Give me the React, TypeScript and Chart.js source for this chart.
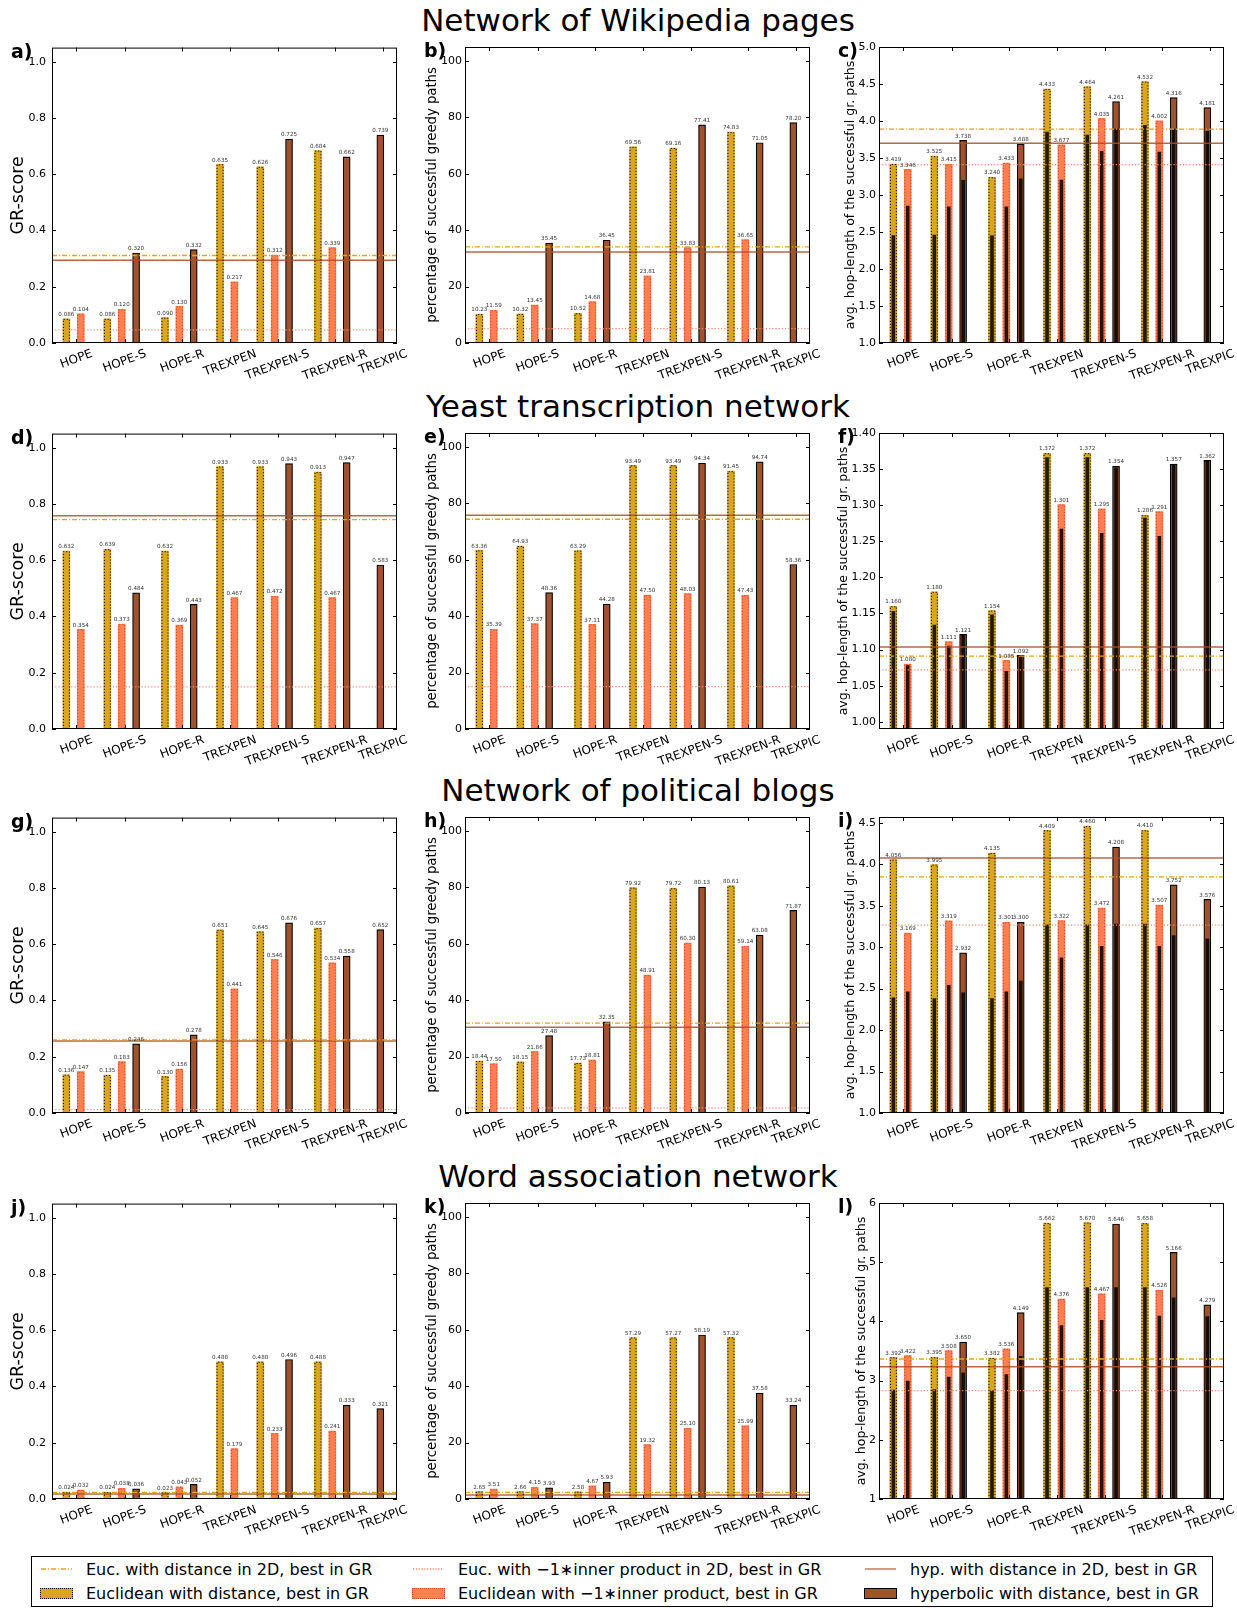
import React, { useEffect, useRef } from "react";
import { Chart, registerables } from "chart.js";
Chart.register(...registerables);

const FONT = "'DejaVu Sans', 'Liberation Sans', sans-serif";

// ---------- categories & layout of the x axis (slot units) ----------
const methods = ["HOPE", "HOPE-S", "HOPE-R", "TREXPEN", "TREXPEN-S", "TREXPEN-R", "TREXPIC"];
const groupStart = [1.0, 3.85, 7.86, 11.69, 14.49, 18.5, 20.84];
const X_MAX = 24;

const rowTitles = [
  "Network of Wikipedia pages",
  "Yeast transcription network",
  "Network of political blogs",
  "Word association network",
];

// ---------- y tick labels ----------
const grTicks = [0, 0.2, 0.4, 0.6, 0.8, 1.0];
const pctTicks = [0, 20, 40, 60, 80, 100];
const hopTicksC = [1.0, 1.5, 2.0, 2.5, 3.0, 3.5, 4.0, 4.5, 5.0];
const hopTicksF = [1.0, 1.05, 1.1, 1.15, 1.2, 1.25, 1.3, 1.35, 1.4];
const hopTicksI = [1.0, 1.5, 2.0, 2.5, 3.0, 3.5, 4.0, 4.5];
const hopTicksL = [1, 2, 3, 4, 5, 6];

// ---------- data: [Euclidean distance, Euclidean -1*inner, hyperbolic] ----------
// 2D reference lines: [Euc. dist 2D, Euc. inner 2D, hyp. 2D]
// a) Wikipedia GR-score
const wikiGR_eucDist = [0.086, 0.086, 0.090, 0.635, 0.626, 0.684, null];
const wikiGR_eucInner = [0.104, 0.120, 0.130, 0.217, 0.312, 0.339, null];
const wikiGR_hyp = [null, 0.320, 0.332, null, 0.725, 0.662, 0.739];
const wikiGR_2D = [0.311, 0.047, 0.294];
// b) Wikipedia percentage
const wikiPct_eucDist = [10.23, 10.32, 10.52, 69.56, 69.16, 74.83, null];
const wikiPct_eucInner = [11.59, 13.45, 14.68, 23.81, 33.83, 36.65, null];
const wikiPct_hyp = [null, 35.45, 36.45, null, 77.41, 71.05, 78.20];
const wikiPct_2D = [34.1, 5.1, 32.3];
// c) Wikipedia hop-length (bar) and inner (dark) values
const wikiHop_eucDist = [3.419, 3.525, 3.240, 4.433, 4.464, 4.532, null];
const wikiHop_eucInner = [3.346, 3.415, 3.433, 3.677, 4.035, 4.002, null];
const wikiHop_hyp = [null, 3.738, 3.688, null, 4.261, 4.316, 4.181];
const wikiHopIn_eucDist = [2.45, 2.46, 2.45, 3.85, 3.81, 3.94, null];
const wikiHopIn_eucInner = [2.85, 2.84, 2.84, 3.20, 3.59, 3.58, null];
const wikiHopIn_hyp = [null, 3.20, 3.22, null, 3.89, 3.89, 3.86];
const wikiHop_2D = [3.89, 3.41, 3.70];
// d) Yeast GR-score
const yeastGR_eucDist = [0.632, 0.639, 0.632, 0.933, 0.933, 0.913, null];
const yeastGR_eucInner = [0.354, 0.373, 0.369, 0.467, 0.472, 0.467, null];
const yeastGR_hyp = [null, 0.484, 0.443, null, 0.943, 0.947, 0.583];
const yeastGR_2D = [0.744, 0.150, 0.758];
// e) Yeast percentage
const yeastPct_eucDist = [63.36, 64.93, 63.29, 93.49, 93.49, 91.45, null];
const yeastPct_eucInner = [35.39, 37.37, 37.11, 47.50, 48.03, 47.43, null];
const yeastPct_hyp = [null, 48.36, 44.28, null, 94.34, 94.74, 58.36];
const yeastPct_2D = [74.4, 15.0, 75.8];
// f) Yeast hop-length
const yeastHop_eucDist = [1.160, 1.180, 1.154, 1.372, 1.372, 1.286, null];
const yeastHop_eucInner = [1.080, 1.111, 1.085, 1.301, 1.295, 1.291, null];
const yeastHop_hyp = [null, 1.121, 1.092, null, 1.354, 1.357, 1.362];
const yeastHopIn_eucDist = [1.153, 1.134, 1.148, 1.366, 1.366, 1.282, null];
const yeastHopIn_eucInner = [1.078, 1.105, 1.070, 1.267, 1.261, 1.257, null];
const yeastHopIn_hyp = [null, 1.121, 1.092, null, 1.352, 1.356, 1.361];
const yeastHop_2D = [1.091, 1.072, 1.1035];
// g) Blogs GR-score
const blogsGR_eucDist = [0.136, 0.135, 0.130, 0.651, 0.645, 0.657, null];
const blogsGR_eucInner = [0.147, 0.183, 0.156, 0.441, 0.546, 0.534, null];
const blogsGR_hyp = [null, 0.246, 0.278, null, 0.676, 0.558, 0.652];
const blogsGR_2D = [0.260, 0.012, 0.256];
// h) Blogs percentage
const blogsPct_eucDist = [18.44, 18.15, 17.73, 79.92, 79.72, 80.61, null];
const blogsPct_eucInner = [17.50, 21.86, 18.81, 48.91, 60.30, 59.14, null];
const blogsPct_hyp = [null, 27.48, 32.35, null, 80.13, 63.08, 71.87];
const blogsPct_2D = [31.9, 1.8, 30.4];
// i) Blogs hop-length
const blogsHop_eucDist = [4.056, 3.995, 4.135, 4.409, 4.460, 4.410, null];
const blogsHop_eucInner = [3.169, 3.319, 3.301, 3.322, 3.472, 3.507, null];
const blogsHop_hyp = [null, 2.932, 3.300, null, 4.208, 3.752, 3.576];
const blogsHopIn_eucDist = [2.39, 2.38, 2.38, 3.27, 3.27, 3.28, null];
const blogsHopIn_eucInner = [2.46, 2.54, 2.46, 2.87, 3.01, 3.01, null];
const blogsHopIn_hyp = [null, 2.45, 2.59, null, 3.28, 3.14, 3.10];
const blogsHop_2D = [3.848, 3.265, 4.077];
// j) Word association GR-score
const wordGR_eucDist = [0.024, 0.024, 0.023, 0.488, 0.488, 0.488, null];
const wordGR_eucInner = [0.032, 0.038, 0.043, 0.179, 0.233, 0.241, null];
const wordGR_hyp = [null, 0.036, 0.052, null, 0.496, 0.333, 0.321];
const wordGR_2D = [0.0236, 0.0035, 0.0177];
// k) Word association percentage
const wordPct_eucDist = [2.65, 2.66, 2.58, 57.29, 57.27, 57.32, null];
const wordPct_eucInner = [3.51, 4.15, 4.67, 19.32, 25.10, 25.99, null];
const wordPct_hyp = [null, 3.93, 5.93, null, 58.19, 37.58, 33.24];
const wordPct_2D = [2.36, 0.35, 1.42];
// l) Word association hop-length
const wordHop_eucDist = [3.392, 3.395, 3.382, 5.662, 5.670, 5.658, null];
const wordHop_eucInner = [3.422, 3.508, 3.536, 4.376, 4.467, 4.526, null];
const wordHop_hyp = [null, 3.650, 4.149, null, 5.646, 5.166, 4.279];
const wordHopIn_eucDist = [2.84, 2.85, 2.83, 4.57, 4.57, 4.57, null];
const wordHopIn_eucInner = [2.99, 3.06, 3.10, 3.93, 4.02, 4.09, null];
const wordHopIn_hyp = [null, 3.13, 3.41, null, 4.57, 4.40, 4.08];
const wordHop_2D = [3.365, 2.83, 3.236];

// ---------- legend ----------
const legendLines = [
  "Euc. with distance in 2D, best in GR",
  "Euc. with \u22121\u2217inner product in 2D, best in GR",
  "hyp. with distance in 2D, best in GR",
];
const legendBars = [
  "Euclidean with distance, best in GR",
  "Euclidean with \u22121\u2217inner product, best in GR",
  "hyperbolic with distance, best in GR",
];

// ---------- styles ----------
const GOLD = "#DAA520";
const CORAL = "#FF7F50";
const SIENNA = "#A0522D";
const LINE_GOLD = "#E8A317";
const LINE_CORAL = "#FA8A6A";
const LINE_BROWN = "rgba(172,78,36,0.85)";
const BAR_W = 7;

type Vals = (number | null)[];
type AxisCfg = {
  min: number; max: number; ticks: number[]; tickDigits: number;
  title: string; titleSize: number; valDigits: number;
};
type Panel = {
  letter: string; row: number; col: number; axis: AxisCfg;
  eucDist: Vals; eucInner: Vals; hyp: Vals; lines2D: number[];
  inner?: Vals[];
};

const hopTitle = "avg. hop-length of the successful gr. paths";
const grAxis: AxisCfg = { min: 0, max: 1.05, ticks: grTicks, tickDigits: 1, title: "GR-score", titleSize: 17.5, valDigits: 3 };
const pctAxis: AxisCfg = { min: 0, max: 105, ticks: pctTicks, tickDigits: 0, title: "percentage of successful greedy paths", titleSize: 13.2, valDigits: 2 };
const hopAxisC: AxisCfg = { min: 1, max: 5, ticks: hopTicksC, tickDigits: 1, title: hopTitle, titleSize: 12.6, valDigits: 3 };
const hopAxisF: AxisCfg = { min: 0.99, max: 1.4, ticks: hopTicksF, tickDigits: 2, title: hopTitle, titleSize: 12.6, valDigits: 3 };
const hopAxisI: AxisCfg = { min: 1, max: 4.57, ticks: hopTicksI, tickDigits: 1, title: hopTitle, titleSize: 12.6, valDigits: 3 };
const hopAxisL: AxisCfg = { min: 1, max: 6, ticks: hopTicksL, tickDigits: 0, title: hopTitle, titleSize: 12.6, valDigits: 3 };

const panels: Panel[] = [
  { letter: "a)", row: 0, col: 0, axis: grAxis, eucDist: wikiGR_eucDist, eucInner: wikiGR_eucInner, hyp: wikiGR_hyp, lines2D: wikiGR_2D },
  { letter: "b)", row: 0, col: 1, axis: pctAxis, eucDist: wikiPct_eucDist, eucInner: wikiPct_eucInner, hyp: wikiPct_hyp, lines2D: wikiPct_2D },
  { letter: "c)", row: 0, col: 2, axis: hopAxisC, eucDist: wikiHop_eucDist, eucInner: wikiHop_eucInner, hyp: wikiHop_hyp, lines2D: wikiHop_2D, inner: [wikiHopIn_eucDist, wikiHopIn_eucInner, wikiHopIn_hyp] },
  { letter: "d)", row: 1, col: 0, axis: grAxis, eucDist: yeastGR_eucDist, eucInner: yeastGR_eucInner, hyp: yeastGR_hyp, lines2D: yeastGR_2D },
  { letter: "e)", row: 1, col: 1, axis: pctAxis, eucDist: yeastPct_eucDist, eucInner: yeastPct_eucInner, hyp: yeastPct_hyp, lines2D: yeastPct_2D },
  { letter: "f)", row: 1, col: 2, axis: hopAxisF, eucDist: yeastHop_eucDist, eucInner: yeastHop_eucInner, hyp: yeastHop_hyp, lines2D: yeastHop_2D, inner: [yeastHopIn_eucDist, yeastHopIn_eucInner, yeastHopIn_hyp] },
  { letter: "g)", row: 2, col: 0, axis: grAxis, eucDist: blogsGR_eucDist, eucInner: blogsGR_eucInner, hyp: blogsGR_hyp, lines2D: blogsGR_2D },
  { letter: "h)", row: 2, col: 1, axis: pctAxis, eucDist: blogsPct_eucDist, eucInner: blogsPct_eucInner, hyp: blogsPct_hyp, lines2D: blogsPct_2D },
  { letter: "i)", row: 2, col: 2, axis: hopAxisI, eucDist: blogsHop_eucDist, eucInner: blogsHop_eucInner, hyp: blogsHop_hyp, lines2D: blogsHop_2D, inner: [blogsHopIn_eucDist, blogsHopIn_eucInner, blogsHopIn_hyp] },
  { letter: "j)", row: 3, col: 0, axis: grAxis, eucDist: wordGR_eucDist, eucInner: wordGR_eucInner, hyp: wordGR_hyp, lines2D: wordGR_2D },
  { letter: "k)", row: 3, col: 1, axis: pctAxis, eucDist: wordPct_eucDist, eucInner: wordPct_eucInner, hyp: wordPct_hyp, lines2D: wordPct_2D },
  { letter: "l)", row: 3, col: 2, axis: hopAxisL, eucDist: wordHop_eucDist, eucInner: wordHop_eucInner, hyp: wordHop_hyp, lines2D: wordHop_2D, inner: [wordHopIn_eucDist, wordHopIn_eucInner, wordHopIn_hyp] },
];

// ---------- page layout ----------
const ROW_TOP = [47, 433, 817, 1203];
const PLOT_H = 296;
const TOP_PAD = 12;
const BOTTOM_SPACE = 40;
const COLS = [
  { canvasLeft: 0, width: 410, plotLeft: 52, plotRight: 397, tickPad: 6 },
  { canvasLeft: 410, width: 415, plotLeft: 465, plotRight: 810, tickPad: 3 },
  { canvasLeft: 825, width: 412, plotLeft: 879, plotRight: 1224, tickPad: 3 },
];

function barData(vals: Vals, offset: number) {
  const out: { x: number; y: number }[] = [];
  vals.forEach((v, i) => {
    if (v !== null && v !== undefined) out.push({ x: groupStart[i] + offset, y: v });
  });
  return out;
}

function tickPositions(p: Panel) {
  return methods.map((_, i) => {
    const offs: number[] = [];
    if (p.eucDist[i] != null) offs.push(0);
    if (p.eucInner[i] != null) offs.push(1);
    if (p.hyp[i] != null) offs.push(2);
    const m = offs.reduce((a, b) => a + b, 0) / offs.length;
    return groupStart[i] + m + 0.2;
  });
}

function makeDecor(p: Panel, tickPos: number[]) {
  const col = COLS[p.col];
  return {
    id: "decor" + p.row + p.col,
    afterDatasetsDraw(chart: any) {
      const ctx = chart.ctx as CanvasRenderingContext2D;
      const { left, right, top, bottom } = chart.chartArea;
      const xs = chart.scales.x;
      const ys = chart.scales.y;
      ctx.save();

      // dotted edges on Euclidean bars
      const edge = ["#111111", "#c94a2c"];
      [0, 1].forEach((di) => {
        const meta = chart.getDatasetMeta(di);
        ctx.strokeStyle = edge[di];
        ctx.lineWidth = 1;
        ctx.setLineDash([1.2, 1.8]);
        meta.data.forEach((el: any) => {
          const x0 = el.x - el.width / 2 + 0.5;
          const x1 = el.x + el.width / 2 - 0.5;
          const b = Math.min(el.base, bottom);
          ctx.beginPath();
          ctx.moveTo(x0, b);
          ctx.lineTo(x0, el.y + 0.5);
          ctx.lineTo(x1, el.y + 0.5);
          ctx.lineTo(x1, b);
          ctx.stroke();
        });
      });
      ctx.setLineDash([]);

      // value labels above bars
      ctx.font = `5.6px ${FONT}`;
      ctx.fillStyle = "#333";
      ctx.textAlign = "center";
      ctx.textBaseline = "bottom";
      [0, 1, 2].forEach((di) => {
        const meta = chart.getDatasetMeta(di);
        const ds = chart.data.datasets[di];
        meta.data.forEach((el: any, j: number) => {
          ctx.fillText(ds.data[j].y.toFixed(p.axis.valDigits), el.x, el.y - 1.5);
        });
      });

      // frame and inward ticks
      ctx.strokeStyle = "#000";
      ctx.lineWidth = 1;
      ctx.strokeRect(left + 0.5, top + 0.5, right - left - 1, bottom - top - 1);
      ctx.beginPath();
      p.axis.ticks.forEach((v) => {
        const y = Math.round(ys.getPixelForValue(v)) + 0.5;
        ctx.moveTo(left, y); ctx.lineTo(left + 4, y);
        ctx.moveTo(right, y); ctx.lineTo(right - 4, y);
      });
      tickPos.forEach((v) => {
        const x = Math.round(xs.getPixelForValue(v)) + 0.5;
        ctx.moveTo(x, top); ctx.lineTo(x, top + 4);
        ctx.moveTo(x, bottom); ctx.lineTo(x, bottom - 4);
      });
      ctx.stroke();

      // rotated x labels, centred on ticks
      const ang = (20 * Math.PI) / 180;
      ctx.font = `12px ${FONT}`;
      ctx.fillStyle = "#000";
      ctx.textAlign = "center";
      ctx.textBaseline = "middle";
      methods.forEach((m, i) => {
        const x = xs.getPixelForValue(tickPos[i]);
        const w = ctx.measureText(m).width;
        const h = 12 * 1.164;
        const bh = w * Math.sin(ang) + h * Math.cos(ang);
        ctx.save();
        ctx.translate(x, bottom + 4 + bh / 2);
        ctx.rotate(-ang);
        ctx.fillText(m, 0, 0);
        ctx.restore();
      });

      // y axis title
      ctx.font = `11px ${FONT}`;
      let maxW = 0;
      p.axis.ticks.forEach((v) => {
        maxW = Math.max(maxW, ctx.measureText(v.toFixed(p.axis.tickDigits)).width);
      });
      const bx = left - col.tickPad - maxW - 1.5 - 0.236 * p.axis.titleSize;
      ctx.font = `${p.axis.titleSize}px ${FONT}`;
      ctx.textAlign = "center";
      ctx.textBaseline = "alphabetic";
      ctx.save();
      ctx.translate(bx, (top + bottom) / 2);
      ctx.rotate(-Math.PI / 2);
      ctx.fillText(p.axis.title, 0, 0);
      ctx.restore();

      // panel letter
      ctx.font = `bold 19px ${FONT}`;
      ctx.textAlign = "left";
      ctx.fillText(p.letter, left - 41, top + 10);

      ctx.restore();
    },
  };
}

function buildConfig(p: Panel): any {
  const col = COLS[p.col];
  const tickPos = tickPositions(p);
  const datasets: any[] = [
    { type: "bar", label: "eucDist", data: barData(p.eucDist, 0), backgroundColor: GOLD, borderWidth: 0, barThickness: BAR_W, grouped: false, order: 3 },
    { type: "bar", label: "eucInner", data: barData(p.eucInner, 1), backgroundColor: CORAL, borderWidth: 0, barThickness: BAR_W, grouped: false, order: 3 },
    { type: "bar", label: "hyp", data: barData(p.hyp, 2), backgroundColor: SIENNA, borderColor: "#000", borderWidth: 1.2, borderSkipped: "start", barThickness: BAR_W, grouped: false, order: 3 },
  ];
  if (p.inner) {
    p.inner.forEach((vals, k) => {
      datasets.push({ type: "bar", label: "inner" + k, data: barData(vals, k), backgroundColor: "rgba(0,0,0,0.85)", borderWidth: 0, barThickness: 3, grouped: false, order: 2 });
    });
  }
  const lineStyles = [
    { color: LINE_GOLD, dash: [5, 2, 1, 2], width: 1.3 },
    { color: LINE_CORAL, dash: [1.2, 2], width: 1.2 },
    { color: LINE_BROWN, dash: [], width: 1.5 },
  ];
  p.lines2D.forEach((v, k) => {
    datasets.push({
      type: "line", label: "line" + k,
      data: [{ x: 0, y: v }, { x: X_MAX, y: v }],
      borderColor: lineStyles[k].color, borderWidth: lineStyles[k].width, borderDash: lineStyles[k].dash,
      pointRadius: 0, fill: false, order: 1,
    });
  });
  return {
    type: "bar",
    data: { datasets },
    options: {
      responsive: false,
      animation: false,
      events: [],
      layout: { padding: { top: TOP_PAD, left: 0, bottom: 0, right: col.canvasLeft + col.width - col.plotRight } },
      plugins: { legend: { display: false }, tooltip: { enabled: false } },
      scales: {
        x: {
          type: "linear", min: 0, max: X_MAX, offset: false,
          grid: { display: false, drawTicks: false, offset: false }, border: { display: false },
          ticks: { display: false },
          afterFit: (s: any) => { s.height = BOTTOM_SPACE; },
        },
        y: {
          type: "linear", min: p.axis.min, max: p.axis.max, beginAtZero: false,
          grid: { display: false, drawTicks: false }, border: { display: false },
          ticks: {
            color: "#000", font: { family: FONT, size: 11 }, padding: col.tickPad,
            callback: (v: any) => Number(v).toFixed(p.axis.tickDigits),
          },
          afterBuildTicks: (s: any) => { s.ticks = p.axis.ticks.map((v) => ({ value: v })); },
          afterFit: (s: any) => { s.width = col.plotLeft - col.canvasLeft; },
        },
      },
    },
    plugins: [makeDecor(p, tickPos)],
  };
}

function PanelChart({ p }: { p: Panel }) {
  const ref = useRef<HTMLCanvasElement>(null);
  useEffect(() => {
    const chart = new Chart(ref.current as HTMLCanvasElement, buildConfig(p));
    return () => chart.destroy();
  }, []);
  const col = COLS[p.col];
  return (
    <canvas
      ref={ref}
      width={col.width}
      height={TOP_PAD + PLOT_H + BOTTOM_SPACE}
      style={{ position: "absolute", left: col.canvasLeft, top: ROW_TOP[p.row] - TOP_PAD, width: col.width, height: TOP_PAD + PLOT_H + BOTTOM_SPACE }}
    />
  );
}

function LineHandle({ k }: { k: number }) {
  const s = [
    { c: LINE_GOLD, d: "5 2 1 2", w: 1.5 },
    { c: LINE_CORAL, d: "1.2 1.6", w: 1.3 },
    { c: "rgba(172,78,36,0.55)", d: "", w: 2 },
  ][k];
  return (
    <svg width={33} height={10} style={{ display: "block" }}>
      <line x1={1} y1={5} x2={32} y2={5} stroke={s.c} strokeWidth={s.w} strokeDasharray={s.d || undefined} />
    </svg>
  );
}

function PatchHandle({ k }: { k: number }) {
  const s = [
    { bg: GOLD, b: "1px dotted #111" },
    { bg: CORAL, b: "1px dotted #c94a2c" },
    { bg: SIENNA, b: "1.5px solid #000" },
  ][k];
  return <div style={{ width: 33, height: 11, background: s.bg, border: s.b, boxSizing: "border-box" }} />;
}

export default function App() {
  const legendCols = [8, 380, 832];
  const rowCenters = [12, 36];
  return (
    <div style={{ position: "absolute", left: 0, top: 0, width: 1237, height: 1608, background: "#fff", overflow: "hidden", fontFamily: FONT }}>
      {rowTitles.map((t, r) => (
        <div key={t} style={{ position: "absolute", left: 138, width: 1000, top: ROW_TOP[r] - 42, textAlign: "center", fontSize: 31, lineHeight: "31px", color: "#000", whiteSpace: "nowrap" }}>
          {t}
        </div>
      ))}
      {panels.map((p) => (
        <PanelChart key={p.letter} p={p} />
      ))}
      <div style={{ position: "absolute", left: 31, top: 1556, width: 1182, height: 51, border: "1px solid #000", boxSizing: "border-box", background: "#fff" }}>
        {[0, 1, 2].map((k) => (
          <React.Fragment key={k}>
            <div style={{ position: "absolute", left: legendCols[k], top: rowCenters[0] - 10, height: 20, display: "flex", alignItems: "center", whiteSpace: "nowrap", fontSize: 16 }}>
              <LineHandle k={k} />
              <span style={{ marginLeft: 13 }}>{legendLines[k]}</span>
            </div>
            <div style={{ position: "absolute", left: legendCols[k], top: rowCenters[1] - 10, height: 20, display: "flex", alignItems: "center", whiteSpace: "nowrap", fontSize: 16 }}>
              <PatchHandle k={k} />
              <span style={{ marginLeft: 13 }}>{legendBars[k]}</span>
            </div>
          </React.Fragment>
        ))}
      </div>
    </div>
  );
}
